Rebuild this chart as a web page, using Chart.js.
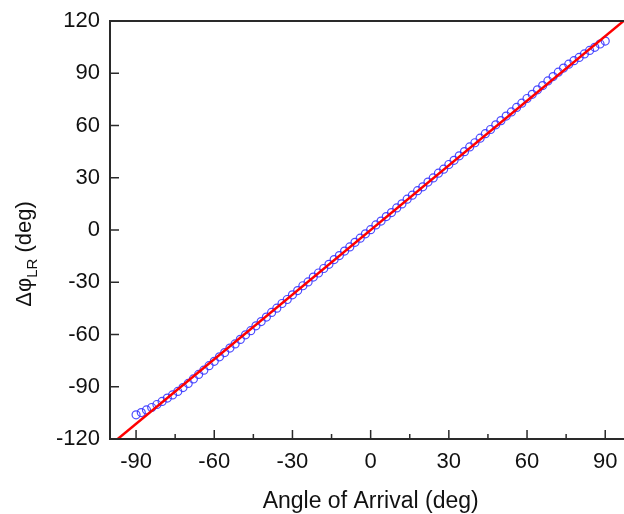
<!DOCTYPE html>
<html>
<head>
<meta charset="utf-8">
<script src="https://cdn.jsdelivr.net/npm/chart.js@4"></script>
<style>
  html, body { margin: 0; padding: 0; background: #ffffff; overflow: hidden; }
  canvas { display: block; }
</style>
</head>
<body>
<canvas id="c" width="624" height="514"></canvas>
<script>
// ---- data ----
const angles = [];
for (let a = -90; a <= 90; a += 2) angles.push(a);
const measuredPhase = [
  -106.1, -104.8, -103.3, -101.9, -100.2, -98.4, -96.5, -94.7, -92.7, -90.5,
  -88.1, -85.5, -82.9, -80.5, -77.9, -75.4, -72.8, -70.4, -67.8, -65.4,
  -62.8, -60.2, -57.8, -55.0, -52.6, -50.0, -47.3, -44.9, -42.2, -39.9,
  -37.2, -34.8, -32.0, -29.8, -27.0, -24.7, -22.1, -19.7, -17.0, -14.7,
  -12.1, -9.7, -7.1, -4.7, -2.2, 0.2, 2.9, 5.1, 7.7, 10.0,
  12.7, 15.0, 17.7, 20.0, 22.6, 24.8, 27.5, 29.9, 32.6, 34.9,
  37.6, 40.0, 42.6, 45.0, 47.7, 50.1, 52.7, 55.3, 57.7, 60.4,
  62.8, 65.4, 67.8, 70.4, 72.8, 75.5, 77.9, 80.5, 82.9, 85.6,
  88.1, 90.6, 93.0, 95.2, 97.2, 99.1, 101.1, 103.1, 104.9, 106.8,
  108.5
];
const fitX = [-100, 100];
const fitY = [-123.65, 123.65];
const xTicks = [-90, -60, -30, 0, 30, 60, 90];
const xMinorTicks = [-75, -45, -15, 15, 45, 75];
const yTicks = [-120, -90, -60, -30, 0, 30, 60, 90, 120];
const xTitle = 'Angle of Arrival (deg)';
const yTitleMain = 'Δφ';
const yTitleSub = 'LR';
const yTitleTail = ' (deg)';

const FONT = "'Liberation Sans', Arial, sans-serif";

const framePlugin = {
  id: 'frame',
  afterDatasetsDraw(chart) {
    const { ctx, chartArea: ca, scales } = chart;
    const xs = scales.x, ys = scales.y;
    ctx.save();
    ctx.strokeStyle = '#2a2a2a';
    ctx.lineWidth = 1.5;
    ctx.beginPath();
    xTicks.forEach(v => { const p = xs.getPixelForValue(v); ctx.moveTo(p, ca.bottom); ctx.lineTo(p, ca.bottom - 9); });
    xMinorTicks.forEach(v => { const p = xs.getPixelForValue(v); ctx.moveTo(p, ca.bottom); ctx.lineTo(p, ca.bottom - 5); });
    yTicks.forEach(v => { const p = ys.getPixelForValue(v); ctx.moveTo(ca.left, p); ctx.lineTo(ca.left + 9, p); });
    ctx.stroke();
    ctx.lineWidth = 2;
    ctx.beginPath();
    ctx.moveTo(ca.left, ca.top); ctx.lineTo(ca.right, ca.top);
    ctx.moveTo(ca.left, ca.top - 1); ctx.lineTo(ca.left, ca.bottom);
    ctx.lineTo(ca.right, ca.bottom);
    ctx.stroke();
    ctx.restore();
  },
  afterDraw(chart) {
    const { ctx, scales } = chart;
    ctx.save();
    ctx.fillStyle = '#111';
    ctx.font = '23px ' + FONT;
    ctx.textAlign = 'center';
    ctx.textBaseline = 'alphabetic';
    ctx.fillText(xTitle, scales.x.getPixelForValue(0), 508);
    ctx.translate(31, 254);
    ctx.rotate(-Math.PI / 2);
    ctx.textAlign = 'left';
    const mainF = '22px ' + FONT, subF = '15px ' + FONT;
    ctx.font = mainF; const w1 = ctx.measureText(yTitleMain).width;
    ctx.font = subF; const w2 = ctx.measureText(yTitleSub).width;
    ctx.font = mainF; const w3 = ctx.measureText(yTitleTail).width;
    let x0 = -(w1 + w2 + w3) / 2;
    ctx.font = mainF; ctx.fillText(yTitleMain, x0, 0);
    ctx.font = subF; ctx.fillText(yTitleSub, x0 + w1, 6);
    ctx.font = mainF; ctx.fillText(yTitleTail, x0 + w1 + w2, 0);
    ctx.restore();
  }
};

new Chart(document.getElementById('c'), {
  type: 'scatter',
  data: {
    datasets: [
      {
        type: 'line',
        label: 'fit',
        data: fitX.map((x, i) => ({ x, y: fitY[i] })),
        borderColor: '#ff0000',
        borderWidth: 2.5,
        pointRadius: 0,
        fill: false,
        order: 0
      },
      {
        label: 'measured',
        data: angles.map((x, i) => ({ x, y: measuredPhase[i] })),
        pointStyle: 'circle',
        pointRadius: 4,
        pointBorderWidth: 1.2,
        pointBorderColor: 'rgba(55,55,255,0.9)',
        pointBackgroundColor: 'rgba(0,0,0,0)',
        order: 1
      }
    ]
  },
  options: {
    responsive: false,
    devicePixelRatio: 1,
    animation: false,
    layout: { autoPadding: false, padding: { top: 21, right: 0, left: 0, bottom: 0 } },
    plugins: { legend: { display: false }, tooltip: { enabled: false } },
    scales: {
      x: {
        type: 'linear',
        min: -100,
        max: 97.2,
        grid: { display: false, drawTicks: false },
        border: { display: false },
        afterBuildTicks: s => { s.ticks = xTicks.map(v => ({ value: v })); },
        afterFit: s => { s.height = 75; s.paddingRight = 0; s.paddingLeft = 0; },
        ticks: { font: { size: 22, family: FONT }, color: '#111', padding: 10, maxRotation: 0, autoSkip: false }
      },
      y: {
        type: 'linear',
        min: -120,
        max: 120,
        grid: { display: false, drawTicks: false },
        border: { display: false },
        afterBuildTicks: s => { s.ticks = yTicks.map(v => ({ value: v })); },
        afterFit: s => { s.width = 110; s.paddingTop = 0; s.paddingBottom = 0; },
        ticks: { font: { size: 22, family: FONT }, color: '#111', padding: 10, autoSkip: false }
      }
    }
  },
  plugins: [framePlugin]
});
</script>
</body>
</html>
